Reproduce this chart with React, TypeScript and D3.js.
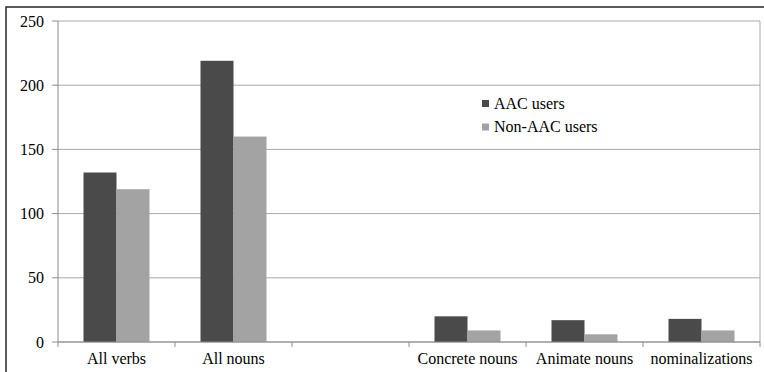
import React from "react";
import * as d3 from "d3";

// Word counts per category, split by participant group
const categories = ["All verbs", "All nouns", "", "Concrete nouns", "Animate nouns", "nominalizations"];
const aacUsers = [132, 219, 0, 20, 17, 18];
const nonAacUsers = [119, 160, 0, 9, 6, 9];
const seriesNames = ["AAC users", "Non-AAC users"];
const seriesColors = ["#4a4a4a", "#a3a3a3"];
const yTicks = [0, 50, 100, 150, 200, 250];

const W = 764;
const H = 372;
const plot = { left: 58, right: 760, top: 21, bottom: 342 };
const textStyle: React.CSSProperties = {
  fontFamily: '"Liberation Serif", "DejaVu Serif", serif',
  fontSize: "16px",
};

export default function App() {
  const x0 = d3
    .scaleBand<string>()
    .domain(categories.map((_, i) => String(i)))
    .range([plot.left, plot.right])
    .paddingInner(51 / 117)
    .paddingOuter(51 / 234);
  const x1 = d3.scaleBand<string>().domain(seriesNames).range([0, x0.bandwidth()]);
  const y = d3.scaleLinear().domain([0, 250]).range([plot.bottom, plot.top]);
  const step = x0.step();
  const values = [aacUsers, nonAacUsers];

  return (
    <svg width={W} height={H} style={{ position: "absolute", left: 0, top: 0, background: "#fff" }}>
      <rect x={6} y={7} width={W + 20} height={H + 20} fill="none" stroke="#333" strokeWidth={1.6} />

      {/* horizontal gridlines */}
      {yTicks.map((t) => (
        <line key={t} x1={plot.left} x2={plot.right} y1={y(t)} y2={y(t)} stroke="#a8a8a8" strokeWidth={1} />
      ))}
      <line x1={plot.right} x2={plot.right} y1={plot.top} y2={plot.bottom} stroke="#a8a8a8" />

      {/* bars */}
      {categories.map((_, i) =>
        seriesNames.map((s, k) => {
          const v = values[k][i];
          if (!v) return null;
          return (
            <rect
              key={`${i}-${k}`}
              x={(x0(String(i)) ?? 0) + (x1(s) ?? 0)}
              y={y(v)}
              width={x1.bandwidth()}
              height={y(0) - y(v)}
              fill={seriesColors[k]}
            />
          );
        })
      )}

      {/* y axis */}
      <line x1={plot.left} x2={plot.left} y1={plot.top} y2={plot.bottom} stroke="#8c8c8c" />
      {yTicks.map((t) => (
        <g key={t}>
          <line x1={plot.left - 6} x2={plot.left} y1={y(t)} y2={y(t)} stroke="#8c8c8c" />
          <text x={44} y={y(t)} dy="0.35em" textAnchor="end" fill="#000" style={textStyle}>
            {t}
          </text>
        </g>
      ))}

      {/* x axis */}
      <line x1={plot.left} x2={plot.right} y1={plot.bottom} y2={plot.bottom} stroke="#8c8c8c" />
      {categories.map((c, i) => {
        const left = (x0(String(i)) ?? 0) - (step - x0.bandwidth()) / 2;
        return (
          <g key={i}>
            <line x1={left} x2={left} y1={plot.bottom} y2={plot.bottom + 5} stroke="#8c8c8c" />
            <text x={left + step / 2} y={364} textAnchor="middle" fill="#000" style={textStyle}>
              {c}
            </text>
          </g>
        );
      })}
      <line x1={plot.right} x2={plot.right} y1={plot.bottom} y2={plot.bottom + 5} stroke="#8c8c8c" />

      {/* legend */}
      {seriesNames.map((s, k) => (
        <g key={s} transform={`translate(482, ${100 + k * 23.5})`}>
          <rect x={0} y={0} width={7} height={7} fill={seriesColors[k]} />
          <text x={12} y={8.5} fill="#000" style={textStyle}>
            {s}
          </text>
        </g>
      ))}
    </svg>
  );
}
